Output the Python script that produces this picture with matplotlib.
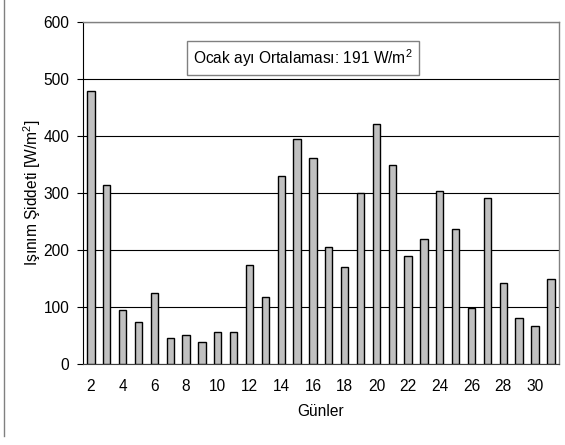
import numpy as np
import matplotlib.pyplot as plt

plt.rcParams['font.family'] = ['Liberation Sans', 'DejaVu Sans']
plt.rcParams['mathtext.fontset'] = 'custom'
plt.rcParams['mathtext.rm'] = 'Liberation Sans'
plt.rcParams['mathtext.default'] = 'rm'

days = list(range(2, 32))
radiation = [478, 314, 94, 73, 125, 46, 51, 39, 56, 56,
             173, 117, 329, 394, 362, 205, 170, 299, 420, 349,
             189, 220, 304, 236, 98, 291, 142, 80, 67, 149]
xtick_labels = [str(d) for d in range(2, 31, 2)]
yticks = [0, 100, 200, 300, 400, 500, 600]
note = "Ocak ayı Ortalaması: 191 W/m$^2$"

fs = 11.2
fig = plt.figure(figsize=(5.65, 4.45), dpi=100)
ax = fig.add_axes([0.147, 0.182, 0.842, 0.769])

ax.bar(days, radiation, width=0.46, color="#c0c0c0", edgecolor="black",
       linewidth=1.0, zorder=3)

ax.set_xlim(1.5, 31.5)
ax.set_ylim(0, 600)
ax.set_yticks(yticks)
ax.set_yticklabels([str(v) for v in yticks], fontsize=fs)
ax.set_xticks(range(2, 31, 2))
ax.set_xticklabels(xtick_labels, fontsize=fs)
ax.tick_params(axis="x", length=0, pad=11)
ax.tick_params(axis="y", length=4, width=0.8, pad=6)

ax.yaxis.grid(True, color="black", linewidth=0.8, zorder=0)
ax.set_axisbelow(True)

for side in ("top", "right"):
    ax.spines[side].set_color("#808080")
    ax.spines[side].set_linewidth(1.0)
ax.spines["left"].set_color("black")
ax.spines["bottom"].set_color("#404040")

ax.set_xlabel("Günler", fontsize=fs, labelpad=7)
ax.set_ylabel("Işınım Şiddeti [W/m$^2$]", fontsize=fs, labelpad=0)

ax.text(0.462, 0.895, note, transform=ax.transAxes, ha="center", va="center",
        fontsize=fs, zorder=5,
        bbox=dict(boxstyle="square,pad=0.4", facecolor="white",
                  edgecolor="#808080", linewidth=1.0))

# outer chart border (left edge only visible in the reference)
fig.add_artist(plt.Line2D([0.007, 0.007], [0.02, 1.0], color="#808080",
                          linewidth=1.0, transform=fig.transFigure))

fig.savefig("out.png", dpi=100)
